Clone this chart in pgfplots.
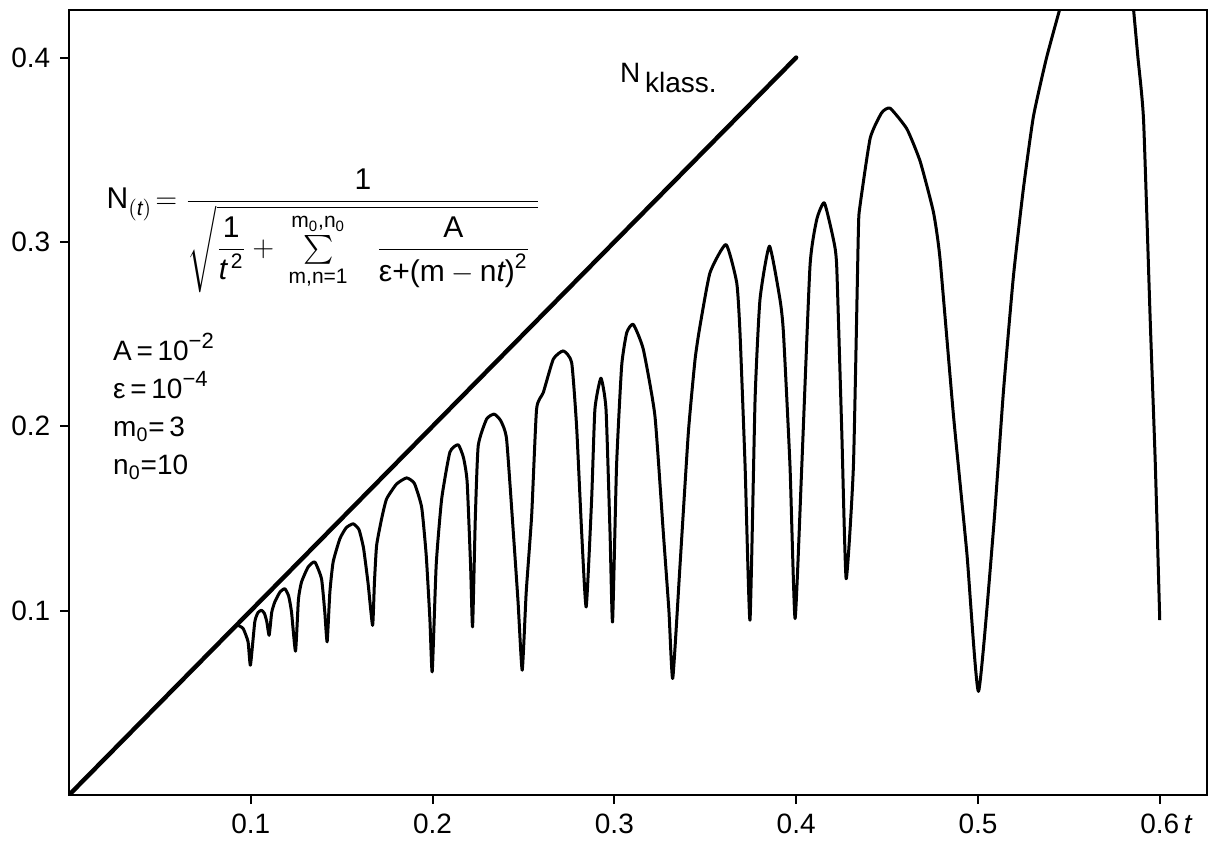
\documentclass[border=0pt]{standalone}
\usepackage{fontspec}
\setmainfont{Liberation Sans}
\usepackage{amsmath}
\usepackage{pgfplots}
\pgfplotsset{compat=1.18}
\pgfplotstableread{
t N
0.0930 0.0920
0.0958 0.0903
0.0985 0.0831
0.0998 0.0704
0.1022 0.0939
0.1040 0.0990
0.1059 0.1002
0.1075 0.0985
0.1088 0.0940
0.1101 0.0866
0.1115 0.0990
0.1132 0.1047
0.1160 0.1100
0.1187 0.1119
0.1208 0.1080
0.1224 0.0993
0.1246 0.0780
0.1262 0.1060
0.1279 0.1155
0.1315 0.1236
0.1352 0.1264
0.1389 0.1173
0.1407 0.0993
0.1420 0.0831
0.1435 0.1100
0.1453 0.1264
0.1490 0.1390
0.1525 0.1450
0.1563 0.1471
0.1595 0.1440
0.1620 0.1340
0.1645 0.1150
0.1670 0.0920
0.1680 0.1150
0.1692 0.1353
0.1720 0.1500
0.1747 0.1606
0.1802 0.1687
0.1857 0.1720
0.1900 0.1690
0.1940 0.1560
0.1965 0.1300
0.1985 0.0957
0.1998 0.0668
0.2020 0.1250
0.2050 0.1606
0.2095 0.1859
0.2141 0.1900
0.2170 0.1830
0.2190 0.1700
0.2209 0.1245
0.2220 0.0912
0.2235 0.1500
0.2251 0.1894
0.2297 0.2039
0.2339 0.2066
0.2375 0.2030
0.2407 0.1931
0.2444 0.1426
0.2470 0.1050
0.2493 0.0677
0.2515 0.1100
0.2545 0.1516
0.2572 0.2093
0.2609 0.2183
0.2664 0.2364
0.2719 0.2409
0.2765 0.2346
0.2792 0.2003
0.2820 0.1426
0.2845 0.1020
0.2875 0.1606
0.2893 0.2093
0.2926 0.2261
0.2954 0.2093
0.2976 0.1426
0.2990 0.0939
0.3012 0.1786
0.3040 0.2327
0.3068 0.2508
0.3104 0.2553
0.3159 0.2418
0.3223 0.2057
0.3269 0.1426
0.3300 0.1000
0.3321 0.0632
0.3361 0.1245
0.3407 0.1967
0.3444 0.2364
0.3471 0.2544
0.3526 0.2833
0.3614 0.2986
0.3673 0.2779
0.3691 0.2508
0.3719 0.1786
0.3746 0.0948
0.3774 0.2147
0.3801 0.2688
0.3853 0.2977
0.3911 0.2688
0.3930 0.2508
0.3966 0.1786
0.3994 0.0957
0.4031 0.1786
0.4076 0.2868
0.4113 0.3121
0.4155 0.3212
0.4205 0.3013
0.4223 0.2868
0.4251 0.1967
0.4275 0.1173
0.4315 0.1786
0.4342 0.3049
0.4350 0.3187
0.4407 0.3562
0.4470 0.3700
0.4517 0.3725
0.4609 0.3613
0.4682 0.3437
0.4755 0.3162
0.4791 0.2912
0.4865 0.2062
0.4939 0.1312
0.5003 0.0562
0.5085 0.1437
0.5140 0.2187
0.5195 0.2813
0.5250 0.3290
0.5305 0.3680
0.5375 0.3990
0.5443 0.4238
0.5470 0.4330
}\curveA
\pgfplotstableread{
t N
0.5845 0.4380
0.5856 0.4260
0.5880 0.4000
0.5911 0.3660
0.5948 0.2562
0.5975 0.1812
0.6000 0.0949
}\curveB
\newcommand{\supx}[1]{\raisebox{0.85ex}{\fontsize{11}{11}\selectfont #1}}
\begin{document}
\fontsize{14}{17}\selectfont
\begin{tikzpicture}
\begin{axis}[
  width=569pt, height=392.5pt, scale only axis,
  xmin=0, xmax=0.626, ymin=0, ymax=0.4258,
  axis line style={line width=1pt},
  xtick={0.1,0.2,0.3,0.4,0.5,0.6},
  xticklabels={0.1,0.2,0.3,0.4,0.5,{0.6\rlap{\,\textit{t}}}},
  ytick={0.1,0.2,0.3,0.4},
  yticklabels={0.1,0.2,0.3,0.4},
  xtick pos=bottom, ytick pos=left, tick align=outside,
  major tick length=4.5pt,
  tick style={line width=1pt, black},
  ticklabel style={font=\fontsize{14}{16}\selectfont},
  /pgf/number format/assume math mode=true,
]
\addplot[black, line width=2.2pt, line cap=round] coordinates {(0,0) (0.4,0.4)};
\addplot[black, line width=1.5pt, line join=round, smooth, tension=0.3] table[x=t, y=N] {\curveA};
\addplot[black, line width=1.5pt, line join=round, smooth, tension=0.3] table[x=t, y=N] {\curveB};
\node[anchor=base west, inner sep=0, font=\fontsize{14}{16}\selectfont] at (axis cs:0.303,0.3863) {N\,\raisebox{-5pt}{klass.}};
\node[anchor=west, inner sep=0, font=\fontsize{15}{17}\selectfont] at (axis cs:0.0205,0.306)
 {$\text{N}_{(\textit{t})}\!=\dfrac{\text{1}}{\sqrt{\dfrac{\text{1}}{\textit{t}^{\,\text{2}}}+\;\sum\limits_{\text{m,n=1}}^{\text{m}_\text{0}\text{,n}_\text{0}}\;\;\;\dfrac{\text{A}}{\text{ε+(m}-\text{n}\textit{t}\text{)}^{\text{2}}}\;}}$};
\node[anchor=west, inner sep=0, align=left, font=\fontsize{14}{19}\selectfont] at (axis cs:0.0241,0.211)
 {A\,=\,10\supx{−2}\\ ε\,=\,10\supx{−4}\\ m$_\text{0}$=\,3\\ n$_\text{0}$=10};
\end{axis}
\path ([shift={(-34.5pt,-24.5pt)}]current axis.south west) rectangle ([shift={(4pt,5pt)}]current axis.north east);
\end{tikzpicture}
\end{document}
